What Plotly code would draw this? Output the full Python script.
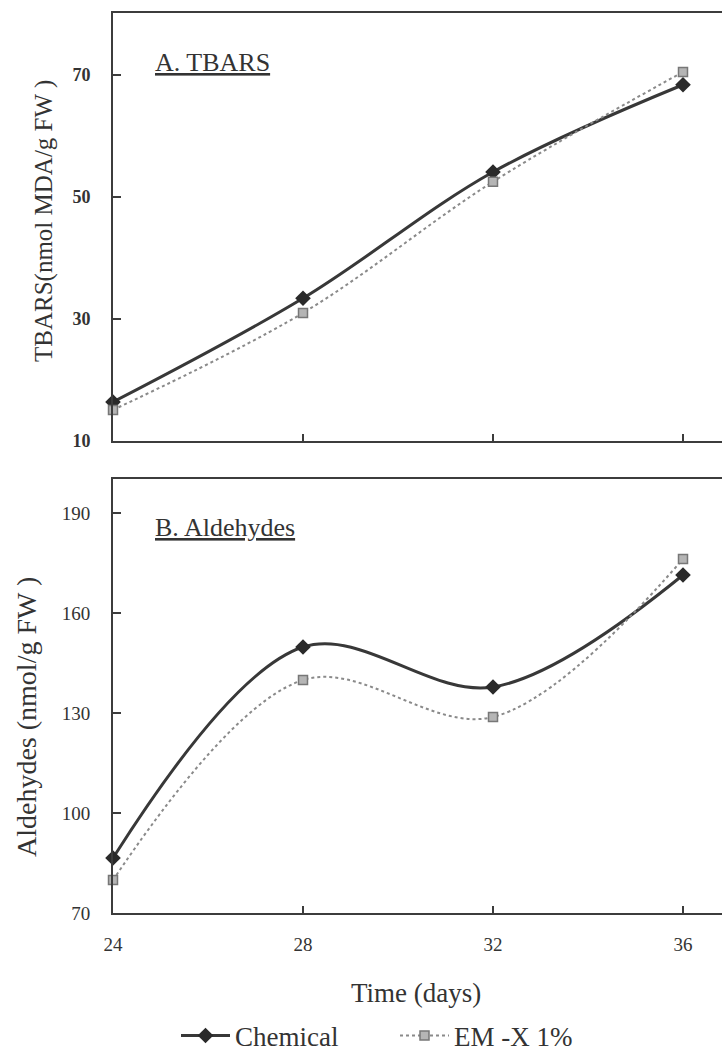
import plotly.graph_objects as go

# ---- data ----
days = [24, 28, 32, 36]
tbars_chemical = [16.4, 33.4, 54.1, 68.4]
tbars_emx = [15.1, 31.0, 52.5, 70.5]
ald_chemical = [86.5, 149.8, 137.8, 171.4]
ald_emx = [79.9, 139.9, 128.8, 176.2]
series_names = ["Chemical", "EM -X 1%"]
tbars_ticks = [10, 30, 50, 70]
ald_ticks = [70, 100, 130, 160, 190]
day_ticks = [24, 28, 32, 36]

W, H = 722, 1051
FONT = "Liberation Serif"
TXT = "#333333"
AX = "#3c3c3c"

def px_x(x):
    return x / W

def px_y(y):
    return 1 - y / H

fig = go.Figure()

chem_line = dict(color="#383838", width=3, shape="spline", smoothing=1)
emx_line = dict(color="#8a8a8a", width=2, dash="dot", shape="spline", smoothing=1)
chem_marker = dict(symbol="diamond", size=12, color="#2a2a2a")
emx_marker = dict(symbol="square", size=9, color="#b5b5b5", line=dict(color="#777777", width=1.5))

fig.add_trace(go.Scatter(x=days, y=tbars_chemical, mode="lines+markers", name=series_names[0],
                         line=chem_line, marker=chem_marker, xaxis="x", yaxis="y",
                         cliponaxis=False, showlegend=True))
fig.add_trace(go.Scatter(x=days, y=tbars_emx, mode="lines+markers", name=series_names[1],
                         line=emx_line, marker=emx_marker, xaxis="x", yaxis="y",
                         cliponaxis=False, showlegend=True))
fig.add_trace(go.Scatter(x=days, y=ald_chemical, mode="lines+markers", name=series_names[0],
                         line=chem_line, marker=chem_marker, xaxis="x2", yaxis="y2",
                         cliponaxis=False, showlegend=False))
fig.add_trace(go.Scatter(x=days, y=ald_emx, mode="lines+markers", name=series_names[1],
                         line=emx_line, marker=emx_marker, xaxis="x2", yaxis="y2",
                         cliponaxis=False, showlegend=False))

xdom = [px_x(113), 1.0]
xrange = [24, 24 + (W - 113) / 47.5]

common_x = dict(domain=xdom, range=xrange, tickvals=day_ticks, ticks="inside", ticklen=7,
                tickwidth=1.5, tickcolor=AX, showline=True, linecolor=AX, linewidth=2,
                mirror=True, showgrid=False, zeroline=False, automargin=False,
                ticklabelstandoff=13,
                tickfont=dict(family=FONT, size=19, color=TXT))
common_y = dict(ticks="inside", ticklen=8, tickwidth=1.5, tickcolor=AX, showline=True,
                linecolor=AX, linewidth=2, showgrid=False, zeroline=False, automargin=False,
                ticklabelstandoff=17)

fig.update_layout(
    width=W, height=H,
    margin=dict(l=0, r=0, t=0, b=0, autoexpand=False),
    paper_bgcolor="white", plot_bgcolor="white",
    xaxis=dict(**common_x, anchor="y", showticklabels=False),
    yaxis=dict(**common_y, domain=[px_y(441), px_y(13)], range=[10, 80.16],
               tickvals=tbars_ticks, anchor="x",
               tickfont=dict(family=FONT, size=18, color=TXT, weight="bold")),
    xaxis2=dict(**common_x, anchor="y2", showticklabels=True),
    yaxis2=dict(**common_y, domain=[px_y(913), px_y(479)], range=[70, 200.2],
                tickvals=ald_ticks, anchor="x2",
                tickfont=dict(family=FONT, size=19, color=TXT)),
    legend=dict(orientation="h", xref="container", yref="container",
                x=px_x(176), xanchor="left", y=px_y(1036), yanchor="middle",
                font=dict(family=FONT, size=27, color=TXT), entrywidth=155,
                itemwidth=49, bgcolor="rgba(0,0,0,0)", tracegroupgap=0),
    showlegend=True,
)

annots = [
    dict(text="<u>A. TBARS</u>", x=px_x(153), y=px_y(62), xanchor="left", yanchor="middle",
         font=dict(family=FONT, size=26, color=TXT)),
    dict(text="<u>B. Aldehydes</u>", x=px_x(153), y=px_y(527), xanchor="left", yanchor="middle",
         font=dict(family=FONT, size=26, color=TXT)),
    dict(text="TBARS(nmol MDA/g FW )", x=px_x(44), y=px_y(221), xanchor="center", yanchor="middle",
         textangle=-90, font=dict(family=FONT, size=25, color=TXT)),
    dict(text="Aldehydes (nmol/g FW )", x=px_x(26), y=px_y(717), xanchor="center", yanchor="middle",
         textangle=-90, font=dict(family=FONT, size=28, color=TXT)),
    dict(text="Time (days)", x=px_x(416), y=px_y(993), xanchor="center", yanchor="middle",
         font=dict(family=FONT, size=27, color=TXT)),
]
for a in annots:
    fig.add_annotation(xref="paper", yref="paper", showarrow=False, **a)

fig.write_html("out.html", config={"displayModeBar": False},
               post_script="document.body.style.margin='0';")
